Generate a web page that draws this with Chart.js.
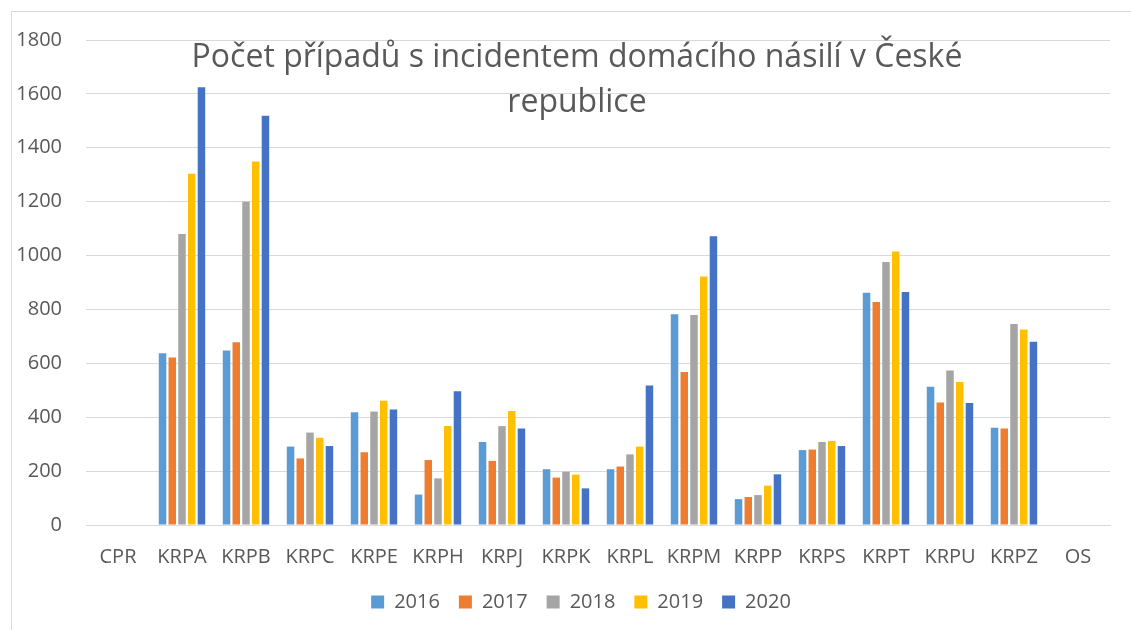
<!DOCTYPE html>
<html>
<head>
<meta charset="utf-8">
<script src="https://cdn.jsdelivr.net/npm/chart.js@4"></script>
<style>
  html, body { margin: 0; padding: 0; background: #fff; }
  #wrap { width: 1131px; height: 630px; position: relative; }
</style>
</head>
<body>
<div id="wrap"><canvas id="chart" width="1131" height="630"></canvas></div>
<script>
// --- data ---
const categories = ["CPR", "KRPA", "KRPB", "KRPC", "KRPE", "KRPH", "KRPJ", "KRPK", "KRPL", "KRPM", "KRPP", "KRPS", "KRPT", "KRPU", "KRPZ", "OS"]
const years = ["2016", "2017", "2018", "2019", "2020"]

const v2016 = [null, 637, 648, 291, 418, 113, 308, 207, 207, 782, 96, 278, 862, 513, 361, null]
const v2017 = [null, 622, 678, 247, 270, 241, 238, 176, 217, 568, 104, 280, 828, 455, 358, null]
const v2018 = [null, 1080, 1200, 343, 421, 173, 367, 198, 262, 779, 111, 308, 976, 573, 746, null]
const v2019 = [null, 1304, 1349, 324, 461, 367, 423, 187, 291, 922, 146, 312, 1015, 531, 726, null]
const v2020 = [null, 1625, 1519, 293, 429, 496, 358, 136, 518, 1072, 188, 293, 865, 453, 680, null]

const yTicks = [0, 200, 400, 600, 800, 1000, 1200, 1400, 1600, 1800]

const titleLines = ["Počet případů s incidentem domácího násilí v České", "republice"]

const colors = ["#5B9BD5", "#ED7D31", "#A5A5A5", "#FFC000", "#4472C4"]
const textColor = "#595959"
const gridColor = "#D9D9D9"
const fontFamily = "'Open Sans', sans-serif"

// --- chart border + overlaid title (Excel style) ---
const excelFrame = {
    id: "excelFrame",
    afterLayout(chart) {
        // legend is centred on the whole frame, not on the plot
        const lg = chart.legend
        if (lg) {
            lg.left += 26
            lg.right += 26
        }
    },
    afterDatasetsDraw(chart) {
        const ctx = chart.ctx
        ctx.save()
        ctx.strokeStyle = gridColor
        ctx.lineWidth = 1
        ctx.beginPath()
        ctx.moveTo(11.5, 640)
        ctx.lineTo(11.5, 11.5)
        ctx.lineTo(1140, 11.5)
        ctx.stroke()

        ctx.fillStyle = textColor
        ctx.font = "32px " + fontFamily
        ctx.textAlign = "center"
        ctx.textBaseline = "alphabetic"
        ctx.fillText(titleLines[0], 577, 67)
        ctx.fillText(titleLines[1], 577, 112)
        ctx.restore()
    }
}

const series = [v2016, v2017, v2018, v2019, v2020]

new Chart(document.getElementById("chart"), {

    type: "bar",

    data: {
        labels: categories,
        datasets: years.map((y, i) => ({
            label: y,
            data: series[i],
            backgroundColor: colors[i],
            borderWidth: 0,
            categoryPercentage: 0.76,
            barPercentage: 0.77
        }))
    },

    options: {
        responsive: false,
        animation: false,
        layout: {
            padding: { left: 0, top: 40, right: 21, bottom: 8 }
        },
        plugins: {
            title: { display: false },
            tooltip: { enabled: false },
            legend: {
                position: "bottom",
                labels: {
                    color: textColor,
                    font: { family: fontFamily, size: 20 },
                    boxWidth: 13,
                    boxHeight: 13,
                    padding: 19
                }
            }
        },
        scales: {
            x: {
                afterFit(axis) { axis.height = 48 },
                grid: { display: false },
                border: { display: true, color: gridColor, width: 1 },
                ticks: {
                    color: textColor,
                    font: { family: fontFamily, size: 20 },
                    padding: 12,
                    maxRotation: 0,
                    autoSkip: false
                }
            },
            y: {
                min: 0,
                max: 1800,
                afterFit(axis) { axis.width = 86 },
                afterBuildTicks(axis) { axis.ticks = yTicks.map(v => ({ value: v })) },
                grid: { color: gridColor, lineWidth: 1, drawTicks: false },
                border: { display: false },
                ticks: {
                    color: textColor,
                    font: { family: fontFamily, size: 20 },
                    padding: 24,
                    callback: v => String(v)
                }
            }
        }
    },

    plugins: [excelFrame]

})
</script>
</body>
</html>
